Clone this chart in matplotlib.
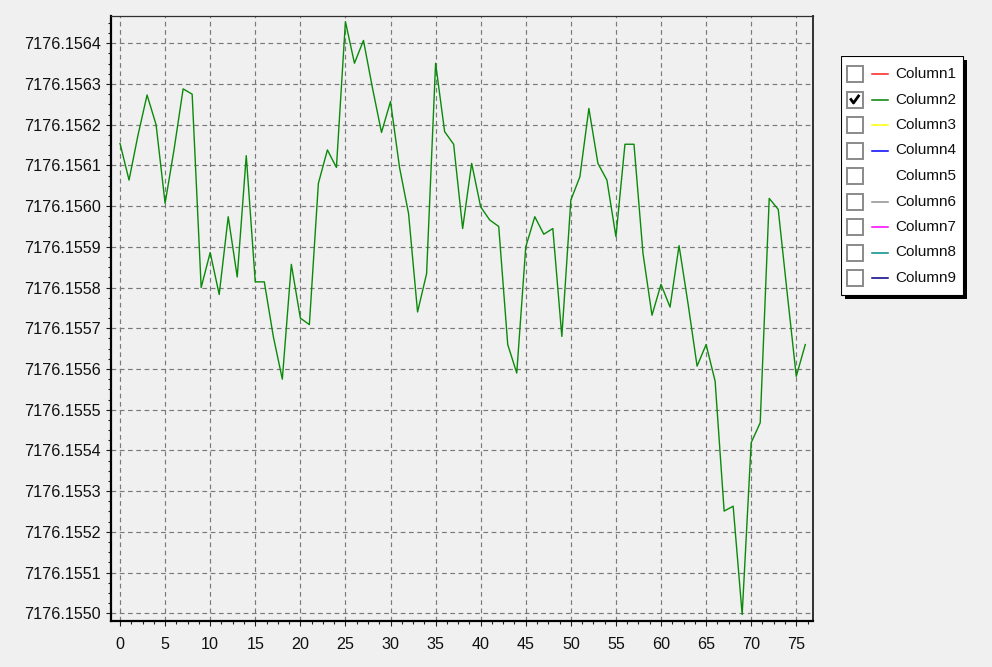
import matplotlib
matplotlib.use("Agg")
import matplotlib.pyplot as plt
from matplotlib.patches import Rectangle
from matplotlib.ticker import MultipleLocator, AutoMinorLocator, FormatStrFormatter

# values (series Column2)
column2 = [
    7176.156154, 7176.156064, 7176.156175, 7176.156273, 7176.156200,
    7176.156007, 7176.156140, 7176.156288, 7176.156275, 7176.155800,
    7176.155886, 7176.155783, 7176.155974, 7176.155826, 7176.156124,
    7176.155814, 7176.155814, 7176.155680, 7176.155575, 7176.155857,
    7176.155725, 7176.155709, 7176.156056, 7176.156138, 7176.156095,
    7176.156453, 7176.156351, 7176.156407, 7176.156290, 7176.156181,
    7176.156257, 7176.156095, 7176.155982, 7176.155740, 7176.155834,
    7176.156351, 7176.156183, 7176.156152, 7176.155945, 7176.156105,
    7176.155998, 7176.155966, 7176.155950, 7176.155660, 7176.155590,
    7176.155900, 7176.155974, 7176.155931, 7176.155945, 7176.155680,
    7176.156015, 7176.156072, 7176.156240, 7176.156105, 7176.156064,
    7176.155925, 7176.156152, 7176.156152, 7176.155884, 7176.155732,
    7176.155808, 7176.155752, 7176.155903, 7176.155760, 7176.155607,
    7176.155660, 7176.155570, 7176.155251, 7176.155263, 7176.154997,
    7176.155419, 7176.155468, 7176.156019, 7176.155992, 7176.155785,
    7176.155582, 7176.155660,
]
x_values = list(range(len(column2)))

legend_names = ["Column1", "Column2", "Column3", "Column4", "Column5",
                "Column6", "Column7", "Column8", "Column9"]
legend_colors = ["#ff2020", "#008000", "#ffff00", "#0000ff", None,
                 "#909090", "#ff00ff", "#008b8b", "#000080"]
legend_checked = [False, True, False, False, False, False, False, False, False]

bg = "#f0f0f0"
plt.rcParams['font.family'] = ['Liberation Sans', 'DejaVu Sans']

fig = plt.figure(figsize=(9.92, 6.67), dpi=100, facecolor=bg)
ax = fig.add_axes([111 / 992, 1 - 621 / 667, (812.5 - 111) / 992, (621 - 16) / 667])
ax.set_facecolor(bg)

# the series
ax.plot(x_values, column2, color="#0a8a0a", linewidth=1.0)

# axes range and ticks
ax.set_xlim(-1, 76.8)
ax.set_ylim(7176.154981, 7176.156467)
ax.xaxis.set_major_locator(MultipleLocator(5))
ax.xaxis.set_minor_locator(AutoMinorLocator(4))
ax.yaxis.set_major_locator(MultipleLocator(0.0001))
ax.yaxis.set_minor_locator(AutoMinorLocator(4))
ax.yaxis.set_major_formatter(FormatStrFormatter('%.4f'))

ax.tick_params(which='major', length=3.5, width=0.8, color='#202020',
               labelsize=11.6, labelcolor='#101010')
ax.tick_params(which='minor', length=2.2, width=0.8, color='#202020')
ax.tick_params(axis='x', pad=8)
ax.tick_params(axis='y', pad=4)

ax.grid(True, which='major', color='#7a7a7a', linestyle=(0, (4, 3)), linewidth=0.85)

for side in ['left', 'bottom']:
    ax.spines[side].set_linewidth(1.6)
    ax.spines[side].set_color('black')
ax.spines['top'].set_linewidth(0.9)
ax.spines['top'].set_color('#303030')
ax.spines['right'].set_linewidth(1.4)
ax.spines['right'].set_color('#303030')

# legend panel with checkboxes, drawn by hand
lax = fig.add_axes([841 / 992, 1 - 299 / 667, 126 / 992, 243 / 667])
lax.set_xlim(0, 126)
lax.set_ylim(243, 0)
lax.axis('off')
lax.add_patch(Rectangle((3.5, 3.5), 122, 239, facecolor='black', edgecolor='none'))
lax.add_patch(Rectangle((0, 0), 122, 239, facecolor='white', edgecolor='black', linewidth=0.8))

row_y = 18
for name, color, checked in zip(legend_names, legend_colors, legend_checked):
    lax.add_patch(Rectangle((6, row_y - 8), 16, 16, facecolor='white',
                            edgecolor='#8a8a8a', linewidth=1.4))
    if checked:
        lax.plot([10, 12.5, 17.5], [row_y, row_y + 3.5, row_y - 3.5], color='black', linewidth=2)
    if color is not None:
        lax.plot([31, 47], [row_y, row_y], color=color, linewidth=1.1)
    lax.text(54, row_y, name, fontsize=11, va='center', ha='left', color='#101010')
    row_y += 25.5

fig.savefig("out.png", dpi=100, facecolor=bg)
